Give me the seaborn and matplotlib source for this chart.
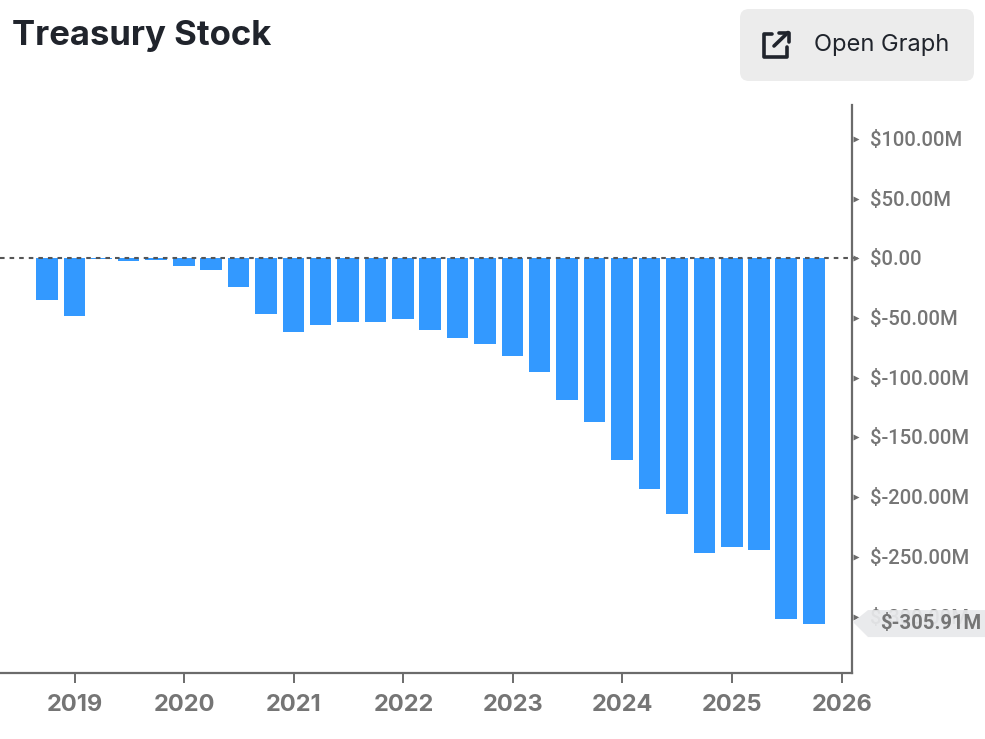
import matplotlib
matplotlib.use('Agg')
import matplotlib.pyplot as plt
import matplotlib.dates as mdates
from matplotlib.patches import FancyBboxPatch, Polygon
from matplotlib.lines import Line2D
from matplotlib.transforms import ScaledTranslation
import pandas as pd
import seaborn as sns

# quarter ends, $M
quarters = pd.date_range('2018-09-30', '2025-09-30', freq='QE')
values = [-35.3, -48.0, -0.6, -2.0, -1.8, -6.8, -10.0, -24.0, -47.0, -61.5,
          -55.5, -53.5, -53.5, -51.0, -60.0, -66.5, -72.0, -82.0, -95.5, -118.3,
          -136.9, -169.0, -193.0, -214.5, -246.6, -241.6, -244.0, -302.0, -305.91]
year_ticks = [2019, 2020, 2021, 2022, 2023, 2024, 2025, 2026]
y_ticks = [100, 50, 0, -50, -100, -150, -200, -250, -300]
y_labels = ['$100.00M', '$50.00M', '$0.00', '$-50.00M', '$-100.00M', '$-150.00M',
            '$-200.00M', '$-250.00M', '$-300.00M']
last_label = '$-305.91M'

W, H = 985, 739
AXIS = '#6b6b6b'
TEXT = '#757575'
DARK = '#20242c'

sns.set_theme(style='white')
plt.rcParams['font.family'] = ['Roboto', 'DejaVu Sans']

fig = plt.figure(figsize=(W / 100, H / 100), dpi=100, facecolor='white')
ax = fig.add_axes([0, (H - 673) / H, 852 / W, (673 - 105) / H])

df = pd.DataFrame({'date': mdates.date2num(quarters), 'value': values})
sns.barplot(data=df, x='date', y='value', native_scale=True, color='#3399ff',
            saturation=1, width=0.8, ax=ax, linewidth=0, zorder=2)

# scale from the tick positions in the picture
d2019 = mdates.date2num(pd.Timestamp('2019-01-01'))
d2026 = mdates.date2num(pd.Timestamp('2026-01-01'))
per_px = (d2026 - d2019) / (841 - 74)
ax.set_xlim(d2019 - 74.7 * per_px, d2026 + 10.3 * per_px)
ax.set_ylim(-(673 - 258.3) / 1.194, (258.3 - 105) / 1.194)

ax.axhline(0, color='#555555', lw=1.5, dashes=(2.2, 2.4), zorder=3, clip_on=False)
ax.plot([1, 1.006], [0, 0], color='#555555', lw=1.2,
        transform=ax.get_yaxis_transform(), clip_on=False)

for side in ['top', 'left']:
    ax.spines[side].set_visible(False)
for side in ['right', 'bottom']:
    ax.spines[side].set_visible(True)
    ax.spines[side].set_color(AXIS)
    ax.spines[side].set_linewidth(1.6)

ax.set_xlabel('')
ax.set_ylabel('')
ax.set_xticks([mdates.date2num(pd.Timestamp(f'{y}-01-01')) for y in year_ticks])
ax.set_xticklabels([str(y) for y in year_ticks], fontsize=17, fontweight='bold', color=TEXT,
                   family=['Inter', 'DejaVu Sans'])
ax.tick_params(axis='x', length=7, width=1.4, color=AXIS, pad=8, bottom=True)

ax.yaxis.tick_right()
ax.set_yticks(y_ticks)
ax.set_yticklabels(y_labels, fontsize=14.6, fontweight='medium', color=TEXT)
ax.tick_params(axis='y', length=0, pad=13, right=False)
# the labels sit a little above their ticks
up = ScaledTranslation(0, 0.5 / 100, fig.dpi_scale_trans)
for lbl in ax.get_yticklabels():
    lbl.set_transform(lbl.get_transform() + up)
ax.plot([1.0045] * len(y_ticks), y_ticks, linestyle='none', marker='>', ms=5,
        mec='none', color=AXIS, transform=ax.get_yaxis_transform(), clip_on=False)

# last value tag, sits over the -300 label
tag_y = H - ax.transData.transform((0, values[-1]))[1]
tag = [(853, tag_y - 1.5), (868, tag_y - 13.5), (985, tag_y - 13.5), (985, tag_y + 13.5), (868, tag_y + 13.5)]
fig.add_artist(Polygon([(x / W, 1 - y / H) for x, y in tag], closed=True,
                       fc='#e8e9eb', ec='none', alpha=0.93, zorder=5))
fig.text(880 / W, 1 - (tag_y - 0.5) / H, last_label, fontsize=14.6, fontweight='bold',
         color=TEXT, va='center', ha='left', zorder=6)

# header
fig.text(12 / W, 1 - 36.5 / H, 'Treasury Stock', fontsize=25, fontweight='bold', color=DARK,
         family=['Inter', 'DejaVu Sans'], va='center', ha='left')
fig.add_artist(FancyBboxPatch((740, H - 81), 234, 72, boxstyle='round,pad=0,rounding_size=9',
                              transform=None, fc='#ececec', ec='none', zorder=1))
fig.text(814 / W, 1 - 45 / H, 'Open Graph', fontsize=17, color=DARK,
         family=['Inter', 'DejaVu Sans'], va='center', ha='left', zorder=2)

# external link icon
icon_paths = [
    [(772, 34), (764, 34), (764, 56.5), (787, 56.5), (787, 47)],
    [(774, 46), (788, 32.5)],
    [(779, 32.5), (788.5, 32.5), (788.5, 42)],
]
for path in icon_paths:
    fig.add_artist(Line2D([p[0] / W for p in path], [1 - p[1] / H for p in path],
                          color=DARK, lw=2.6, solid_joinstyle='round',
                          solid_capstyle='round', zorder=2))

fig.savefig('out.png', dpi=100)
